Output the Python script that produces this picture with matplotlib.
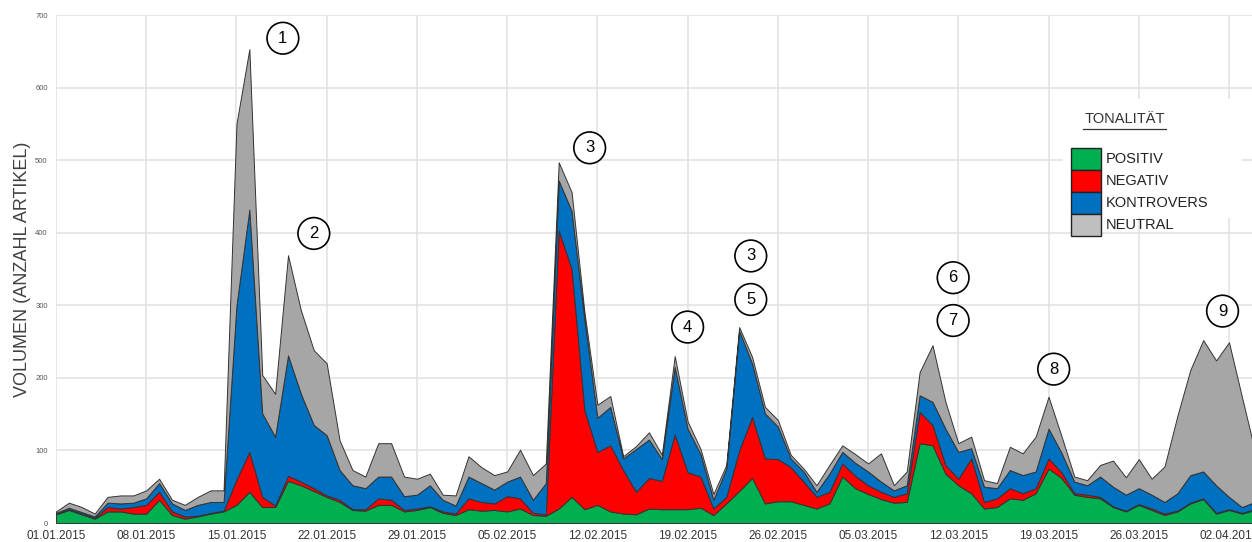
import numpy as np
import matplotlib
matplotlib.use("Agg")
import matplotlib.pyplot as plt
from matplotlib.patches import Rectangle

plt.rcParams['font.family'] = ['Liberation Sans', 'DejaVu Sans']

# daily article counts from 01.01.2015, one row per week
positiv = [12, 18, 12, 6, 16, 16, 13,
           13, 32, 11, 6, 9, 13, 16,
           25, 43, 22, 22, 58, 52, 44,
           36, 29, 18, 17, 25, 25, 16,
           18, 22, 14, 11, 19, 17, 18,
           16, 20, 11, 10, 20, 36, 19,
           25, 16, 13, 12, 20, 19, 19,
           19, 21, 11, 27, 44, 62, 27,
           30, 30, 25, 20, 27, 64, 48,
           40, 33, 28, 29, 110, 107, 68,
           52, 41, 20, 22, 34, 32, 41,
           75, 62, 39, 36, 34, 22, 16,
           25, 18, 11, 16, 27, 33, 13,
           18, 13, 18]
negativ = [1, 1, 1, 1, 6, 4, 9,
           12, 11, 5, 3, 1, 1, 1,
           35, 55, 14, 2, 7, 5, 4,
           2, 3, 1, 2, 9, 7, 2,
           2, 1, 2, 2, 15, 12, 9,
           21, 14, 3, 2, 383, 314, 136,
           73, 91, 60, 31, 42, 39, 103,
           51, 43, 9, 9, 56, 84, 62,
           58, 47, 32, 16, 16, 18, 17,
           12, 10, 8, 12, 43, 28, 12,
           9, 48, 9, 12, 14, 9, 7,
           14, 8, 2, 3, 2, 1, 1,
           1, 2, 2, 1, 1, 1, 1,
           1, 1, 1]
kontrovers = [1, 2, 2, 2, 6, 7, 6,
              9, 12, 11, 9, 15, 15, 12,
              240, 334, 115, 95, 166, 121, 87,
              83, 41, 33, 29, 30, 32, 19,
              19, 29, 16, 11, 30, 26, 19,
              20, 30, 18, 43, 69, 80, 125,
              47, 53, 16, 59, 53, 30, 93,
              60, 31, 12, 39, 165, 74, 62,
              45, 12, 14, 7, 25, 16, 18,
              19, 14, 9, 11, 23, 32, 50,
              37, 14, 21, 14, 25, 25, 23,
              41, 27, 16, 13, 28, 27, 22,
              22, 19, 16, 24, 38, 37, 38,
              17, 8, 10]
neutral = [2, 7, 7, 4, 8, 11, 10,
           11, 6, 5, 7, 11, 16, 16,
           250, 221, 53, 59, 138, 115, 103,
           99, 41, 21, 16, 46, 46, 27,
           22, 16, 7, 14, 28, 22, 20,
           14, 37, 34, 27, 25, 26, 10,
           18, 15, 3, 4, 10, 6, 15,
           10, 7, 8, 5, 5, 9, 9,
           9, 5, 4, 9, 12, 9, 12,
           11, 39, 7, 19, 32, 78, 37,
           12, 16, 9, 7, 32, 30, 48,
           44, 23, 7, 7, 16, 36, 24,
           40, 22, 49, 107, 145, 181, 172,
           213, 152, 71]

date_labels = ["01.01.2015", "08.01.2015", "15.01.2015", "22.01.2015", "29.01.2015",
               "05.02.2015", "12.02.2015", "19.02.2015", "26.02.2015", "05.03.2015",
               "12.03.2015", "19.03.2015", "26.03.2015", "02.04.2015"]

series_names = ["POSITIV", "NEGATIV", "KONTROVERS", "NEUTRAL"]
colors = ["#00B050", "#FF0000", "#0070C0", "#A6A6A6"]

# event markers: (label, day index, volume)
events = [("1", 17.6, 668), ("2", 20.0, 399), ("3", 41.4, 517),
          ("3", 53.9, 368), ("5", 53.9, 308), ("4", 49.0, 270),
          ("6", 69.6, 338), ("7", 69.6, 279), ("8", 77.4, 212),
          ("9", 90.5, 292)]

days = np.arange(len(positiv))

fig = plt.figure(figsize=(12.52, 5.42), dpi=100)
ax = fig.add_axes([56 / 1252, 19 / 542, 1196 / 1252, 508 / 542])

ax.stackplot(days, positiv, negativ, kontrovers, neutral, colors=colors,
             edgecolor="#333333", linewidth=0.7, zorder=2)

ax.set_xlim(0, 1196 / 12.89)
ax.set_ylim(0, 700)
ax.set_xticks(np.arange(len(date_labels)) * 7)
ax.set_xticklabels(date_labels, fontsize=8.5, color="#333333")
ax.set_yticks(np.arange(0, 701, 100))
ax.set_yticklabels([str(v) for v in range(0, 701, 100)], fontsize=5.5, color="#555555")
ax.tick_params(length=0, pad=6)
ax.tick_params(axis="x", pad=5)
ax.grid(True, color="#E3E3E3", linewidth=1.2, zorder=0)
ax.set_axisbelow(True)
for s in ax.spines.values():
    s.set_visible(False)

ax.set_ylabel("VOLUMEN (ANZAHL ARTIKEL)", fontsize=13, color="#404040", labelpad=3)

for lab, d, v in events:
    ax.annotate(lab, (d, v), ha="center", va="center", fontsize=12, color="black",
                bbox=dict(boxstyle="circle,pad=0.5", fc="white", ec="black", lw=1.2),
                zorder=5)

# legend block
ax.add_patch(Rectangle((0.842, 0.6), 0.15, 0.235, transform=ax.transAxes,
                       fc="white", ec="none", zorder=3))
ax.text(0.86, 0.795, "TONALITÄT", transform=ax.transAxes, fontsize=10.5,
        color="#333333", va="center", ha="left", zorder=4)
ax.plot([0.859, 0.928], [0.776, 0.776], transform=ax.transAxes, color="#333333",
        lw=0.9, zorder=4)
box_h = 22 / 508
for i, (name, c) in enumerate(zip(series_names, colors)):
    yb = (523 - 170) / 508 - i * box_h
    fc = c if name != "NEUTRAL" else "#BFBFBF"
    ax.add_patch(Rectangle((1015 / 1196, yb), 30 / 1196, box_h, transform=ax.transAxes,
                           fc=fc, ec="#222222", lw=1.0, zorder=4))
    ax.text(1050 / 1196, yb + box_h / 2, name, transform=ax.transAxes, fontsize=10.5,
            color="#222222", va="center", ha="left", zorder=4)

fig.savefig("out.png", dpi=100)
